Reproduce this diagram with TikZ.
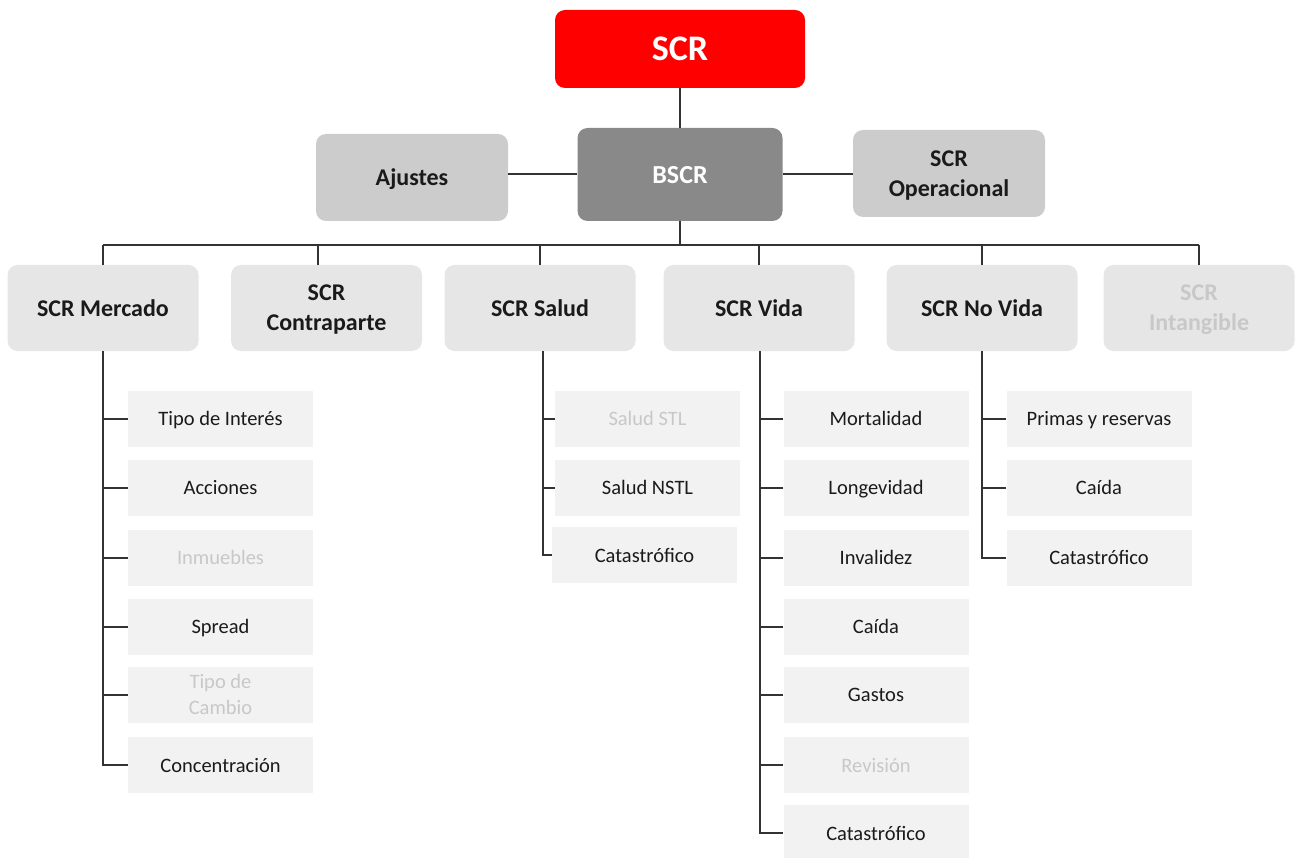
\documentclass[tikz,border=0pt]{standalone}
\usepackage{fontspec}
\setmainfont{Carlito}
\definecolor{scrred}{HTML}{FF0000}
\definecolor{bscrc}{HTML}{898989}
\definecolor{midc}{HTML}{CCCCCC}
\definecolor{subc}{HTML}{E6E6E6}
\definecolor{leafc}{HTML}{F2F2F2}
\definecolor{textc}{HTML}{1A1A1A}
\definecolor{fadec}{HTML}{C8C8C8}
\definecolor{linec}{HTML}{333333}
\begin{document}
\begin{tikzpicture}[x=1pt,y=-1pt,
  link/.style={draw=linec, line width=2pt},
  topbox/.style={rounded corners=10pt, inner sep=0pt, align=center, text depth=0pt,
    font=\fontsize{24}{30}\selectfont\bfseries, text=textc},
  midbox/.style={topbox, fill=midc, minimum width=192pt, minimum height=87pt},
  subbox/.style={topbox, fill=subc, minimum width=191pt, minimum height=86pt},
  leaf/.style={fill=leafc, minimum width=185pt, minimum height=56pt, inner sep=0pt,
    align=center, text depth=0pt, font=\fontsize{20.5}{26}\selectfont, text=textc},
  faded/.style={text=fadec}]
\useasboundingbox (0,0) rectangle (1295,858);

% top levels
\node[topbox, fill=scrred, text=white, minimum width=250pt, minimum height=78pt,
  font=\fontsize{36}{40}\selectfont\bfseries] (scr) at (680,49) {SCR};
\node[topbox, fill=bscrc, text=white, minimum width=205pt, minimum height=93pt,
  font=\fontsize{26}{30}\selectfont\bfseries] (bscr) at (680,174.5) {BSCR};
\node[midbox] (ajust) at (412,177.5) {Ajustes};
\node[midbox] (oper) at (949,173.5) {SCR\\Operacional};

% modules
\node[subbox] (merc) at (103,308) {SCR Mercado};
\node[subbox] (contra) at (326.5,308) {SCR\\Contraparte};
\node[subbox] (salud) at (540,308) {SCR Salud};
\node[subbox] (vida) at (759,308) {SCR Vida};
\node[subbox] (novida) at (982,308) {SCR No Vida};
\node[subbox, text=fadec] (intang) at (1199,308) {SCR\\Intangible};

% market sub-modules
\node[leaf] (m1) at (220.5,418.5) {Tipo de Interés};
\node[leaf] (m2) at (220.5,487.5) {Acciones};
\node[leaf, faded] (m3) at (220.5,557.5) {Inmuebles};
\node[leaf] (m4) at (220.5,626.5) {Spread};
\node[leaf, faded] (m5) at (220.5,694.5) {Tipo de\\Cambio};
\node[leaf] (m6) at (220.5,765) {Concentración};

% health sub-modules
\node[leaf, faded] (s1) at (647.5,418.5) {Salud STL};
\node[leaf] (s2) at (647.5,487.5) {Salud NSTL};
\node[leaf] (s3) at (644.5,555) {Catastrófico};

% life sub-modules
\node[leaf] (v1) at (876,418.5) {Mortalidad};
\node[leaf] (v2) at (876,487.5) {Longevidad};
\node[leaf] (v3) at (876,557.5) {Invalidez};
\node[leaf] (v4) at (876,626.5) {Caída};
\node[leaf] (v5) at (876,694.5) {Gastos};
\node[leaf, faded] (v6) at (876,765) {Revisión};
\node[leaf] (v7) at (876,833) {Catastrófico};

% non-life sub-modules
\node[leaf] (n1) at (1099,418.5) {Primas y reservas};
\node[leaf] (n2) at (1099,487.5) {Caída};
\node[leaf] (n3) at (1099,557.5) {Catastrófico};

% connectors
\coordinate (bus) at (680,245);
\draw[link] (scr) -- (bscr);
\draw[link] (bscr.west) -- (bscr.west -| ajust.east);
\draw[link] (bscr.east) -- (bscr.east -| oper.west);
\draw[link] (bscr.south) -- (bus);
\draw[link] (merc.north |- bus) -- (intang.north |- bus);
\foreach \m in {merc,salud,vida,novida,intang}
  \draw[link] (\m.north) -- (\m.north |- bus);
\draw[link] ([xshift=-9pt]contra.north) -- ([xshift=-9pt]contra.north |- bus);

\draw[link] (merc.south) |- (m6.west);
\foreach \l in {m1,m2,m3,m4,m5}
  \draw[link] (\l.west) -- (\l.west -| merc.south);
\draw[link] ([xshift=3pt]salud.south) |- (s3.west);
\foreach \l in {s1,s2}
  \draw[link] (\l.west) -- ([xshift=3pt]\l.west -| salud.south);
\draw[link] ([xshift=1pt]vida.south) |- (v7.west);
\foreach \l in {v1,v2,v3,v4,v5,v6}
  \draw[link] (\l.west) -- ([xshift=1pt]\l.west -| vida.south);
\draw[link] (novida.south) |- (n3.west);
\foreach \l in {n1,n2}
  \draw[link] (\l.west) -- (\l.west -| novida.south);
\end{tikzpicture}
\end{document}
